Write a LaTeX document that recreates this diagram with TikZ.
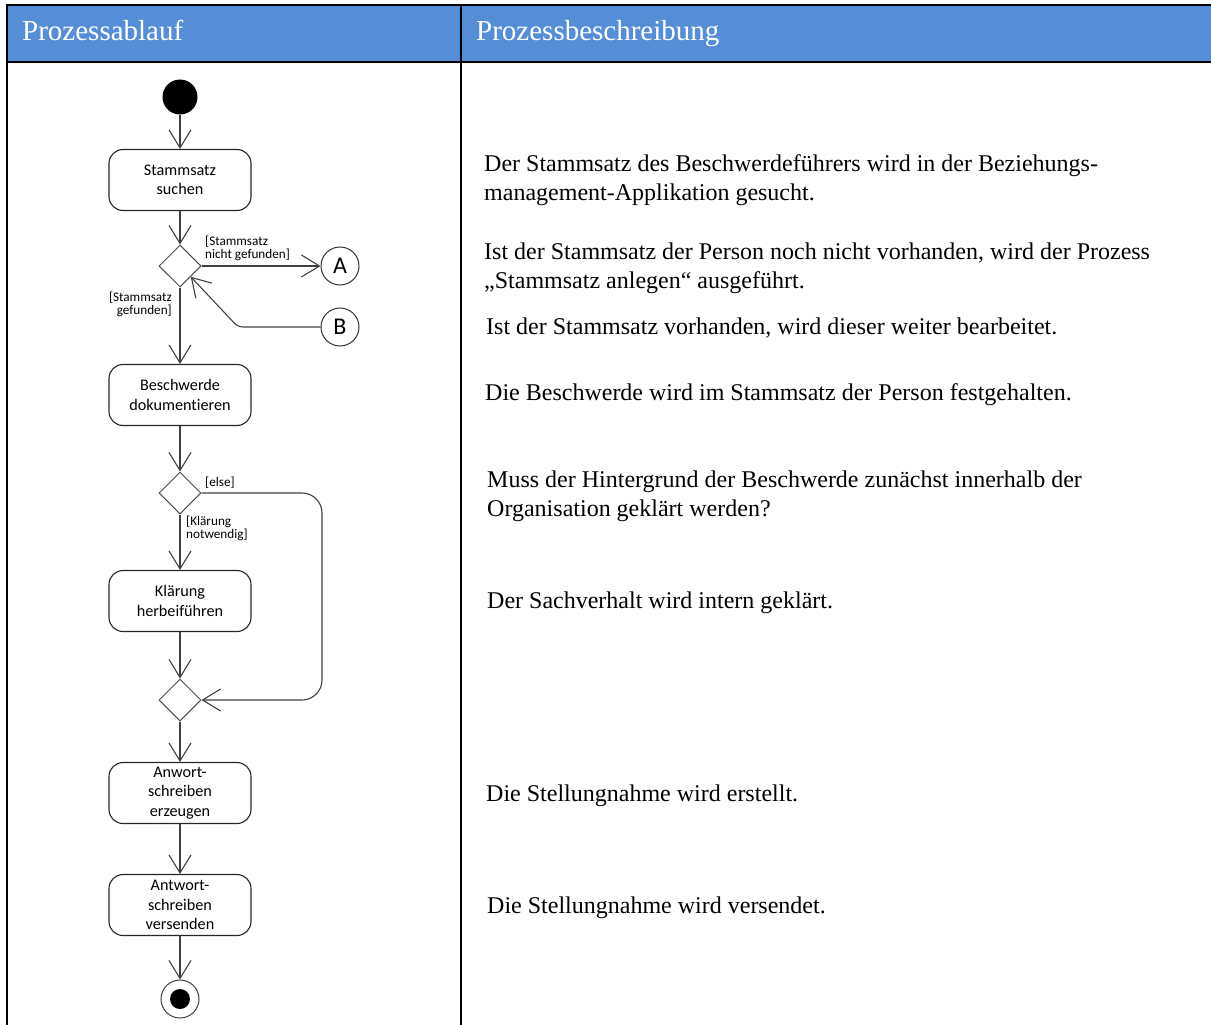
\documentclass[tikz,border=0pt]{standalone}
\usepackage{fontspec}
\setmainfont{Liberation Serif}
\newfontfamily\umlfont[Ligatures=NoCommon]{Carlito}
\usetikzlibrary{arrows.meta,shapes.geometric}
\definecolor{headblue}{RGB}{85,142,213}
\definecolor{flowgray}{RGB}{64,64,64}

\begin{document}
\begin{tikzpicture}[x=1pt,y=-1pt,
  action/.style={draw=black!85, line width=1.1pt, rounded corners=14pt,
    minimum width=142pt, minimum height=61pt, align=center, inner sep=1pt,
    font=\umlfont\fontsize{16.2}{19.5}\selectfont},
  decision/.style={diamond, draw=black!70, line width=1pt,
    minimum width=42pt, minimum height=42pt, inner sep=0pt},
  connector/.style={circle, draw=black!80, line width=1pt, minimum size=38pt,
    inner sep=0pt, font=\umlfont\fontsize{24}{24}\selectfont},
  flow/.style={draw=flowgray, line width=1.1pt,
    -{Straight Barb[length=18pt,width=22pt,line width=1.1pt]}},
  guard/.style={font=\umlfont\fontsize{13.2}{13}\selectfont, inner sep=0pt},
  desc/.style={anchor=base west, inner sep=0pt, font=\fontsize{24}{29}\selectfont},
  headtext/.style={anchor=base west, inner sep=0pt, text=white, font=\fontsize{29}{32}\selectfont},
  rule/.style={line width=2.5pt, black}
]
\useasboundingbox (0,0) rectangle (1211,1025);

% table header and grid
\fill[headblue] (7,5) rectangle (1211,62);
\draw[rule] (5.75,5) -- (1211,5);
\draw[rule] (5.75,62) -- (1211,62);
\draw[rule] (7,3.75) -- (7,1025);
\draw[rule] (461,5) -- (461,1025);
\node[headtext] (h1) at (22,41) {Prozessablauf};
\node[headtext] (h2) at (476,41) {Prozessbeschreibung};

% activity diagram
\node[circle, fill=black, minimum size=35pt, inner sep=0pt] (start) at (180,97) {};
\node[action] (a1) at (180,180) {Stammsatz\\suchen};
\node[decision] (d1) at (180,266) {};
\node[connector] (A) at (340,266) {A};
\node[connector] (B) at (340,327) {B};
\node[action] (a2) at (180,395) {Beschwerde\\dokumentieren};
\node[decision] (d2) at (180,493) {};
\node[action] (a3) at (180,601) {Klärung\\herbeiführen};
\node[decision] (d3) at (180,700) {};
\node[action] (a4) at (180,793) {Anwort-\\schreiben\\erzeugen};
\node[action] (a5) at (180,905) {Antwort-\\schreiben\\versenden};
\node[circle, draw=black!75, line width=1pt, minimum size=38pt, inner sep=0pt] (end) at (180,999) {};
\node[circle, fill=black, minimum size=20pt, inner sep=0pt] (endcore) at (180,999) {};

\coordinate (bend) at (238,327);
\draw[flow] (start) -- (a1);
\draw[flow] (a1) -- (d1);
\draw[flow] (d1.east) -- (A);
\draw[flow, rounded corners=5pt] (B.west) -- (bend) -- (d1.south east);
\draw[flow] (d1) -- (a2);
\draw[flow] (a2) -- (d2);
\draw[flow] (d2) -- (a3);
\draw[flow, rounded corners=20pt] (d2.east) -| (322,560) |- (d3.east);
\draw[flow] (a3) -- (d3);
\draw[flow] (d3) -- (a4);
\draw[flow] (a4) -- (a5);
\draw[flow] (a5) -- (end);

% guards
\node[guard, anchor=north west, align=left] (g1) at (205,236) {[Stammsatz\\nicht gefunden]};
\node[guard, anchor=north east, align=right] (g2) at (172,292) {[Stammsatz\\gefunden]};
\node[guard, anchor=west] (g3) at (205,483) {[else]};
\node[guard, anchor=north west, align=left] (g4) at (186,516) {[Klärung\\notwendig]};

% descriptions
\node[desc] (t1a) at (484,171) {Der Stammsatz des Beschwerdeführers wird in der Beziehungs-};
\node[desc] (t1b) at (484,200) {management-Applikation gesucht.};
\node[desc] (t2a) at (484,259) {Ist der Stammsatz der Person noch nicht vorhanden, wird der Prozess};
\node[desc] (t2b) at (484,288) {„Stammsatz anlegen“ ausgeführt.};
\node[desc] (t3) at (486,334) {Ist der Stammsatz vorhanden, wird dieser weiter bearbeitet.};
\node[desc] (t4) at (485,400) {Die Beschwerde wird im Stammsatz der Person festgehalten.};
\node[desc] (t5a) at (487,487) {Muss der Hintergrund der Beschwerde zunächst innerhalb der};
\node[desc] (t5b) at (487,516) {Organisation geklärt werden?};
\node[desc] (t6) at (487,608) {Der Sachverhalt wird intern geklärt.};
\node[desc] (t7) at (486,801) {Die Stellungnahme wird erstellt.};
\node[desc] (t8) at (487,913) {Die Stellungnahme wird versendet.};
\end{tikzpicture}
\end{document}
